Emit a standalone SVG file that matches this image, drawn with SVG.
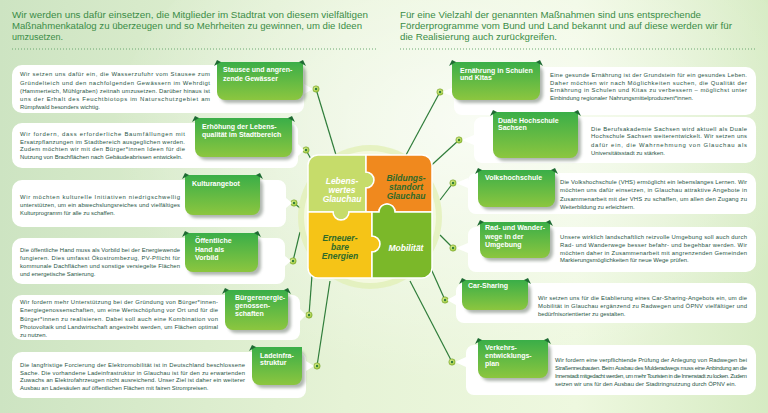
<svg xmlns="http://www.w3.org/2000/svg" width="768" height="413" viewBox="0 0 768 413">
<defs>
<linearGradient id="bg" x1="0" y1="0" x2="1" y2="0">
<stop offset="0" stop-color="#cde4c2"/>
<stop offset="0.45" stop-color="#e6f3d6"/>
<stop offset="0.75" stop-color="#eef8df"/>
<stop offset="1" stop-color="#d6ebc3"/>
</linearGradient>
<radialGradient id="glow" cx="0.5" cy="0.45" r="0.5">
<stop offset="0" stop-color="#ffffff" stop-opacity="0.7"/>
<stop offset="1" stop-color="#ffffff" stop-opacity="0"/>
</radialGradient>
<linearGradient id="tabg" x1="0" y1="0" x2="0" y2="1">
<stop offset="0" stop-color="#3aae48"/>
<stop offset="1" stop-color="#8cc63f"/>
</linearGradient>
<radialGradient id="dotg" cx="0.4" cy="0.4" r="0.6">
<stop offset="0" stop-color="#e4f29a"/>
<stop offset="1" stop-color="#9cc83a"/>
</radialGradient>
<filter id="sh" x="-10%" y="-10%" width="130%" height="140%">
<feGaussianBlur stdDeviation="1.5"/>
</filter>
<style>
.title{font-family:"Liberation Sans",Arial,sans-serif;font-size:9.2px;fill:#3a8c46}
.body{font-family:"Liberation Sans",Arial,sans-serif;font-size:5.9px;fill:#1f5545}
.lab{font-family:"Liberation Sans",Arial,sans-serif;font-size:7px;font-weight:bold;fill:#ffffff}
.box{fill:#ffffff}
.tab{fill:url(#tabg)}
.tsh{fill:#6f7d70;opacity:0.55;filter:url(#sh)}
.ear{fill:#1f6b33}
.dots{stroke:#6aa870;stroke-width:1;stroke-dasharray:1 2}
.con{stroke:#2f7d3a;stroke-width:1.2;fill:none}
.dot{fill:url(#dotg);stroke:#6f9a2a;stroke-width:0.5}
.dc{fill:#2f7d3a}
.pz{font-family:"Liberation Sans",Arial,sans-serif;font-size:8.5px;font-weight:bold;font-style:italic;text-anchor:middle}
</style>
</defs>
<rect width="768" height="413" fill="url(#bg)"/>
<ellipse cx="470" cy="150" rx="360" ry="260" fill="url(#glow)"/>

<g id="titles">
<text class="title" x="12" y="18" textLength="356" lengthAdjust="spacingAndGlyphs">Wir werden uns dafür einsetzen, die Mitglieder im Stadtrat von diesem vielfältigen</text>
<text class="title" x="12" y="29" textLength="350" lengthAdjust="spacingAndGlyphs">Maßnahmenkatalog zu überzeugen und so Mehrheiten zu gewinnen, um die Ideen</text>
<text class="title" x="12" y="40" textLength="51" lengthAdjust="spacingAndGlyphs">umzusetzen.</text>
<text class="title" x="400" y="18" textLength="301" lengthAdjust="spacingAndGlyphs">Für eine Vielzahl der genannten Maßnahmen sind uns entsprechende</text>
<text class="title" x="400" y="29" textLength="332" lengthAdjust="spacingAndGlyphs">Förderprogramme vom Bund und Land bekannt und auf diese werden wir für</text>
<text class="title" x="400" y="40" textLength="157" lengthAdjust="spacingAndGlyphs">die Realisierung auch zurückgreifen.</text>
<line class="dots" x1="12" y1="49" x2="376" y2="49"/>
<line class="dots" x1="400" y1="49" x2="756" y2="49"/>
</g>

<g id="connectors">
<path class="con" d="M336 155 L316 89"/>
<path class="con" d="M318 172 L306 150"/>
<path class="con" d="M300 208 L294 203"/>
<path class="con" d="M300 232 L293 261"/>
<path class="con" d="M313 262 L309 315"/>
<path class="con" d="M330 281 L317 366"/>
<path class="con" d="M406 155 L440 92"/>
<path class="con" d="M424 172 L459 140"/>
<path class="con" d="M440 200 L453 183"/>
<path class="con" d="M440 235 L453 248"/>
<path class="con" d="M428 262 L445 300"/>
<path class="con" d="M410 281 L452 362"/>
</g>

<g id="hub">
<circle cx="370" cy="217" r="72" fill="#e2f0b8" opacity="0.8"/>
<circle cx="370" cy="217" r="66" fill="#f4f9e0"/>
<g id="p-lebenswert">
<path d="M318 155 H366 V172 a8 8 0 0 1 0 16 V212 H349 a8 8 0 0 1 -16 0 H308 V165 a10 10 0 0 1 10 -10 Z" fill="#c6dc6a" stroke="#ffffff" stroke-width="1.5"/>
<text class="pz" x="342" y="184" fill="#ffffff">Lebens-</text>
<text class="pz" x="342" y="193" fill="#ffffff">wertes</text>
<text class="pz" x="342" y="202" fill="#ffffff">Glauchau</text>
</g>
<g id="p-bildung">
<path d="M366 155 H422 a10 10 0 0 1 10 10 V212 H395 a8 8 0 0 0 -16 0 H366 V188 a8 8 0 0 0 0 -16 Z" fill="#f0891e" stroke="#ffffff" stroke-width="1.5"/>
<text class="pz" x="406" y="181" fill="#2e6a2a">Bildungs-</text>
<text class="pz" x="406" y="190" fill="#2e6a2a">standort</text>
<text class="pz" x="406" y="199" fill="#2e6a2a">Glauchau</text>
</g>
<g id="p-energie">
<path d="M308 212 H333 a8 8 0 0 0 16 0 H372 V236 a8 8 0 0 1 0 16 V278 H318 a10 10 0 0 1 -10 -10 Z" fill="#f5c417" stroke="#ffffff" stroke-width="1.5"/>
<text class="pz" x="340" y="241" fill="#2e6a2a">Erneuer-</text>
<text class="pz" x="340" y="250" fill="#2e6a2a">bare</text>
<text class="pz" x="340" y="259" fill="#2e6a2a">Energien</text>
</g>
<g id="p-mobil">
<path d="M372 212 H379 a8 8 0 0 1 16 0 H432 V268 a10 10 0 0 1 -10 10 H372 V252 a8 8 0 0 0 0 -16 Z" fill="#7bb829" stroke="#ffffff" stroke-width="1.5"/>
<text class="pz" x="406" y="251" fill="#ffffff">Mobilität</text>
</g>
</g>

<g id="dots">
<circle class="dot" cx="316" cy="89" r="3.2"/><circle class="dc" cx="316" cy="89" r="1.2"/>
<circle class="dot" cx="306" cy="150" r="3.2"/><circle class="dc" cx="306" cy="150" r="1.2"/>
<circle class="dot" cx="294" cy="203" r="3.2"/><circle class="dc" cx="294" cy="203" r="1.2"/>
<circle class="dot" cx="293" cy="261" r="3.2"/><circle class="dc" cx="293" cy="261" r="1.2"/>
<circle class="dot" cx="309" cy="315" r="3.2"/><circle class="dc" cx="309" cy="315" r="1.2"/>
<circle class="dot" cx="317" cy="366" r="3.2"/><circle class="dc" cx="317" cy="366" r="1.2"/>
<circle class="dot" cx="440" cy="92" r="3.2"/><circle class="dc" cx="440" cy="92" r="1.2"/>
<circle class="dot" cx="459" cy="140" r="3.2"/><circle class="dc" cx="459" cy="140" r="1.2"/>
<circle class="dot" cx="453" cy="183" r="3.2"/><circle class="dc" cx="453" cy="183" r="1.2"/>
<circle class="dot" cx="453" cy="248" r="3.2"/><circle class="dc" cx="453" cy="248" r="1.2"/>
<circle class="dot" cx="445" cy="300" r="3.2"/><circle class="dc" cx="445" cy="300" r="1.2"/>
<circle class="dot" cx="452" cy="362" r="3.2"/><circle class="dc" cx="452" cy="362" r="1.2"/>
</g>

<g id="n-stausee">
<path class="box" d="M22 65 H296 a8 8 0 0 1 8 8 V84 L313 89 L304 94 V105 a8 8 0 0 1 -8 8 H22 a10 10 0 0 1 -10 -10 V75 a10 10 0 0 1 10 -10 Z"/>
<rect class="tsh" x="220" y="65" width="86" height="38" rx="8"/>
<path class="tab" d="M217 62 H303 V92 a8 8 0 0 1 -8 8 H225 a8 8 0 0 1 -8 -8 Z"/>
<path class="ear" d="M214 66 L217 60 L221 62 Z M306 66 L303 60 L299 62 Z"/>
<text class="lab" x="223" y="72">Stausee und angren-</text>
<text class="lab" x="223" y="80.5">zende Gewässer</text>
<text class="body" x="20" y="76" textLength="190" lengthAdjust="spacing">Wir setzen uns dafür ein, die Wasserzufuhr vom Stausee zum</text>
<text class="body" x="20" y="84.5" textLength="190" lengthAdjust="spacing">Gründelteich und den nachfolgenden Gewässern im Wehrdigt</text>
<text class="body" x="20" y="92.5" textLength="190" lengthAdjust="spacing">(Hammerteich, Mühlgraben) zeitnah umzusetzen. Darüber hinaus ist</text>
<text class="body" x="20" y="101" textLength="190" lengthAdjust="spacing">uns der Erhalt des Feuchtbiotops im Naturschutzgebiet am</text>
<text class="body" x="20" y="109">Rümpfwald besonders wichtig.</text>
</g>

<g id="n-lebensqualitaet">
<path class="box" d="M22 123 H290 a8 8 0 0 1 8 8 V144 L304 150 L298 156 V160 a8 8 0 0 1 -8 8 H22 a10 10 0 0 1 -10 -10 V133 a10 10 0 0 1 10 -10 Z"/>
<rect class="tsh" x="198" y="121" width="96" height="39" rx="8"/>
<path class="tab" d="M195 118 H292 V149 a8 8 0 0 1 -8 8 H203 a8 8 0 0 1 -8 -8 Z"/>
<path class="ear" d="M192 122 L195 116 L199 118 Z M295 122 L292 116 L288 118 Z"/>
<text class="lab" x="202" y="129">Erhöhung der Lebens-</text>
<text class="lab" x="202" y="137">qualität im Stadtbereich</text>
<text class="body" x="20" y="136" textLength="165" lengthAdjust="spacing">Wir fordern, dass erforderliche Baumfällungen mit</text>
<text class="body" x="20" y="143.5" textLength="165" lengthAdjust="spacing">Ersatzpflanzungen im Stadtbereich ausgeglichen werden.</text>
<text class="body" x="20" y="151" textLength="165" lengthAdjust="spacing">Zudem möchten wir mit den Bürger*innen Ideen für die</text>
<text class="body" x="20" y="159">Nutzung von Brachflächen nach Gebäudeabrissen entwickeln.</text>
</g>

<g id="n-kultur">
<path class="box" d="M22 180 H278 a8 8 0 0 1 8 8 V198 L292 203 L286 208 V219 a8 8 0 0 1 -8 8 H22 a10 10 0 0 1 -10 -10 V190 a10 10 0 0 1 10 -10 Z"/>
<rect class="tsh" x="188" y="178" width="75" height="40" rx="8"/>
<path class="tab" d="M185 175 H260 V207 a8 8 0 0 1 -8 8 H193 a8 8 0 0 1 -8 -8 Z"/>
<path class="ear" d="M182 179 L185 173 L189 175 Z M263 179 L260 173 L256 175 Z"/>
<text class="lab" x="192" y="186">Kulturangebot</text>
<text class="body" x="20" y="199" textLength="160" lengthAdjust="spacing">Wir möchten kulturelle Initiativen niedrigschwellig</text>
<text class="body" x="20" y="207" textLength="160" lengthAdjust="spacing">unterstützen, um ein abwechslungsreiches und vielfältiges</text>
<text class="body" x="20" y="215">Kulturprogramm für alle zu schaffen.</text>
</g>

<g id="n-hand">
<path class="box" d="M22 238 H277 a8 8 0 0 1 8 8 V256 L291 261 L285 266 V276 a8 8 0 0 1 -8 8 H22 a10 10 0 0 1 -10 -10 V248 a10 10 0 0 1 10 -10 Z"/>
<rect class="tsh" x="188" y="236" width="73" height="39" rx="8"/>
<path class="tab" d="M185 233 H258 V264 a8 8 0 0 1 -8 8 H193 a8 8 0 0 1 -8 -8 Z"/>
<path class="ear" d="M182 237 L185 231 L189 233 Z M261 237 L258 231 L254 233 Z"/>
<text class="lab" x="195" y="243">Öffentliche</text>
<text class="lab" x="195" y="251.5">Hand als</text>
<text class="lab" x="195" y="260">Vorbild</text>
<text class="body" x="20" y="252" textLength="160" lengthAdjust="spacing">Die öffentliche Hand muss als Vorbild bei der Energiewende</text>
<text class="body" x="20" y="260" textLength="160" lengthAdjust="spacing">fungieren. Dies umfasst Ökostrombezug, PV-Pflicht für</text>
<text class="body" x="20" y="268" textLength="160" lengthAdjust="spacing">kommunale Dachflächen und sonstige versiegelte Flächen</text>
<text class="body" x="20" y="275.5">und energetische Sanierung.</text>
</g>

<g id="n-buerger">
<path class="box" d="M22 295 H292 a8 8 0 0 1 8 8 V309 L306 315 L300 321 V332 a8 8 0 0 1 -8 8 H22 a10 10 0 0 1 -10 -10 V305 a10 10 0 0 1 10 -10 Z"/>
<rect class="tsh" x="228" y="293" width="63" height="40" rx="8"/>
<path class="tab" d="M225 290 H288 V322 a8 8 0 0 1 -8 8 H233 a8 8 0 0 1 -8 -8 Z"/>
<path class="ear" d="M222 294 L225 288 L229 290 Z M291 294 L288 288 L284 290 Z"/>
<text class="lab" x="235" y="300">Bürgerenergie-</text>
<text class="lab" x="235" y="308">genossen-</text>
<text class="lab" x="235" y="316">schaften</text>
<text class="body" x="20" y="304" textLength="198" lengthAdjust="spacing">Wir fordern mehr Unterstützung bei der Gründung von Bürger*innen-</text>
<text class="body" x="20" y="312" textLength="198" lengthAdjust="spacing">Energiegenossenschaften, um eine Wertschöpfung vor Ort und für die</text>
<text class="body" x="20" y="320.5" textLength="198" lengthAdjust="spacing">Bürger*innen zu realisieren. Dabei soll auch eine Kombination von</text>
<text class="body" x="20" y="329" textLength="198" lengthAdjust="spacing">Photovoltaik und Landwirtschaft angestrebt werden, um Flächen optimal</text>
<text class="body" x="20" y="337">zu nutzen.</text>
</g>

<g id="n-lade">
<path class="box" d="M22 352 H298 a8 8 0 0 1 8 8 V361 L314 366 L306 371 V390 a8 8 0 0 1 -8 8 H22 a10 10 0 0 1 -10 -10 V362 a10 10 0 0 1 10 -10 Z"/>
<rect class="tsh" x="255" y="350" width="50" height="38" rx="8"/>
<path class="tab" d="M252 347 H302 V377 a8 8 0 0 1 -8 8 H260 a8 8 0 0 1 -8 -8 Z"/>
<path class="ear" d="M249 351 L252 345 L256 347 Z"/>
<text class="lab" x="260" y="357.5">Ladeinfra-</text>
<text class="lab" x="260" y="365">struktur</text>
<text class="body" x="20" y="366.5" textLength="225" lengthAdjust="spacing">Die langfristige Forcierung der Elektromobilität ist in Deutschland beschlossene</text>
<text class="body" x="20" y="374.5" textLength="225" lengthAdjust="spacing">Sache. Die vorhandene Ladeinfrastruktur in Glauchau ist für den zu erwartenden</text>
<text class="body" x="20" y="382" textLength="225" lengthAdjust="spacing">Zuwachs an Elektrofahrzeugen nicht ausreichend. Unser Ziel ist daher ein weiterer</text>
<text class="body" x="20" y="390">Ausbau an Ladesäulen auf öffentlichen Flächen mit fairen Strompreisen.</text>
</g>

<g id="n-ernaehrung">
<path class="box" d="M462 67 H746 a10 10 0 0 1 10 10 V105 a10 10 0 0 1 -10 10 H462 a8 8 0 0 1 -8 -8 V97 L442 92 L454 87 V75 a8 8 0 0 1 8 -8 Z"/>
<rect class="tsh" x="455" y="65" width="88" height="38" rx="8"/>
<path class="tab" d="M452 62 H540 V92 a8 8 0 0 1 -8 8 H460 a8 8 0 0 1 -8 -8 Z"/>
<path class="ear" d="M449 66 L452 60 L456 62 Z M543 66 L540 60 L536 62 Z"/>
<text class="lab" x="460" y="72.5">Ernährung in Schulen</text>
<text class="lab" x="460" y="80">und Kitas</text>
<text class="body" x="550" y="77" textLength="197" lengthAdjust="spacing">Eine gesunde Ernährung ist der Grundstein für ein gesundes Leben.</text>
<text class="body" x="550" y="84.5" textLength="197" lengthAdjust="spacing">Daher möchten wir nach Möglichkeiten suchen, die Qualität der</text>
<text class="body" x="550" y="92" textLength="197" lengthAdjust="spacing">Ernährung in Schulen und Kitas zu verbessern – möglichst unter</text>
<text class="body" x="550" y="99.5">Einbindung regionaler Nahrungsmittelproduzent*innen.</text>
</g>

<g id="n-duale">
<path class="box" d="M482 117 H746 a10 10 0 0 1 10 10 V153 a10 10 0 0 1 -10 10 H482 a8 8 0 0 1 -8 -8 V145 L462 140 L474 135 V125 a8 8 0 0 1 8 -8 Z"/>
<rect class="tsh" x="496" y="115" width="85" height="46" rx="8"/>
<path class="tab" d="M493 112 H578 V150 a8 8 0 0 1 -8 8 H501 a8 8 0 0 1 -8 -8 Z"/>
<path class="ear" d="M490 116 L493 110 L497 112 Z M581 116 L578 110 L574 112 Z"/>
<text class="lab" x="498" y="122.5">Duale Hochschule</text>
<text class="lab" x="498" y="130">Sachsen</text>
<text class="body" x="591" y="130.5" textLength="156" lengthAdjust="spacing">Die Berufsakademie Sachsen wird aktuell als Duale</text>
<text class="body" x="591" y="138" textLength="156" lengthAdjust="spacing">Hochschule Sachsen weiterentwickelt. Wir setzen uns</text>
<text class="body" x="591" y="146.5" textLength="156" lengthAdjust="spacing">dafür ein, die Wahrnehmung von Glauchau als</text>
<text class="body" x="591" y="154.5">Universitätsstadt zu stärken.</text>
</g>

<g id="n-vhs">
<path class="box" d="M476 173 H746 a10 10 0 0 1 10 10 V204 a10 10 0 0 1 -10 10 H476 a8 8 0 0 1 -8 -8 V188 L456 183 L468 178 V181 a8 8 0 0 1 8 -8 Z"/>
<rect class="tsh" x="481" y="173" width="77" height="37" rx="8"/>
<path class="tab" d="M478 170 H555 V199 a8 8 0 0 1 -8 8 H486 a8 8 0 0 1 -8 -8 Z"/>
<path class="ear" d="M475 174 L478 168 L482 170 Z M558 174 L555 168 L551 170 Z"/>
<text class="lab" x="485" y="180">Volkshochschule</text>
<text class="body" x="560" y="184" textLength="187" lengthAdjust="spacing">Die Volkshochschule (VHS) ermöglicht ein lebenslanges Lernen. Wir</text>
<text class="body" x="560" y="192" textLength="187" lengthAdjust="spacing">möchten uns dafür einsetzen, in Glauchau attraktive Angebote in</text>
<text class="body" x="560" y="200.5" textLength="187" lengthAdjust="spacing">Zusammenarbeit mit der VHS zu schaffen, um allen den Zugang zu</text>
<text class="body" x="560" y="209">Weiterbildung zu erleichtern.</text>
</g>

<g id="n-rad">
<path class="box" d="M476 227 H746 a10 10 0 0 1 10 10 V262 a10 10 0 0 1 -10 10 H476 a8 8 0 0 1 -8 -8 V253 L456 248 L468 243 V235 a8 8 0 0 1 8 -8 Z"/>
<rect class="tsh" x="483" y="225" width="70" height="36" rx="8"/>
<path class="tab" d="M480 222 H550 V250 a8 8 0 0 1 -8 8 H488 a8 8 0 0 1 -8 -8 Z"/>
<path class="ear" d="M477 226 L480 220 L484 222 Z M553 226 L550 220 L546 222 Z"/>
<text class="lab" x="485" y="230">Rad- und Wander-</text>
<text class="lab" x="485" y="238.5">wege in der</text>
<text class="lab" x="485" y="246.5">Umgebung</text>
<text class="body" x="560" y="239" textLength="187" lengthAdjust="spacing">Unsere wirklich landschaftlich reizvolle Umgebung soll auch durch</text>
<text class="body" x="560" y="247" textLength="187" lengthAdjust="spacing">Rad- und Wanderwege besser befahr- und begehbar werden. Wir</text>
<text class="body" x="560" y="254.5" textLength="187" lengthAdjust="spacing">möchten daher in Zusammenarbeit mit angrenzenden Gemeinden</text>
<text class="body" x="560" y="262">Markierungsmöglichkeiten für neue Wege prüfen.</text>
</g>

<g id="n-car">
<path class="box" d="M464 283 H746 a10 10 0 0 1 10 10 V313 a10 10 0 0 1 -10 10 H464 a8 8 0 0 1 -8 -8 V305 L447 300 L456 295 V291 a8 8 0 0 1 8 -8 Z"/>
<rect class="tsh" x="465" y="283" width="66" height="30" rx="8"/>
<path class="tab" d="M462 280 H528 V302 a8 8 0 0 1 -8 8 H470 a8 8 0 0 1 -8 -8 Z"/>
<path class="ear" d="M459 284 L462 278 L466 280 Z M531 284 L528 278 L524 280 Z"/>
<text class="lab" x="468" y="288">Car-Sharing</text>
<text class="body" x="538" y="300" textLength="209" lengthAdjust="spacing">Wir setzen uns für die Etablierung eines Car-Sharing-Angebots ein, um die</text>
<text class="body" x="538" y="308" textLength="209" lengthAdjust="spacing">Mobilität in Glauchau ergänzend zu Radwegen und ÖPNV vielfältiger und</text>
<text class="body" x="538" y="316">bedürfnisorientierter zu gestalten.</text>
</g>

<g id="n-verkehr">
<path class="box" d="M474 345 H746 a10 10 0 0 1 10 10 V385 a10 10 0 0 1 -10 10 H474 a8 8 0 0 1 -8 -8 V367 L455 362 L466 357 V353 a8 8 0 0 1 8 -8 Z"/>
<rect class="tsh" x="481" y="343" width="70" height="38" rx="8"/>
<path class="tab" d="M478 340 H548 V370 a8 8 0 0 1 -8 8 H486 a8 8 0 0 1 -8 -8 Z"/>
<path class="ear" d="M475 344 L478 338 L482 340 Z M551 344 L548 338 L544 340 Z"/>
<text class="lab" x="485" y="350">Verkehrs-</text>
<text class="lab" x="485" y="358">entwicklungs-</text>
<text class="lab" x="485" y="366">plan</text>
<text class="body" x="555" y="362" textLength="192" lengthAdjust="spacing">Wir fordern eine verpflichtende Prüfung der Anlegung von Radwegen bei</text>
<text class="body" x="555" y="370" textLength="192" lengthAdjust="spacing">Straßenneubauten. Beim Ausbau des Mulderadwegs muss eine Anbindung an die</text>
<text class="body" x="555" y="378" textLength="192" lengthAdjust="spacing">Innenstadt mitgedacht werden, um mehr Touristen in die Innenstadt zu locken. Zudem</text>
<text class="body" x="555" y="386">setzen wir uns für den Ausbau der Stadtringnutzung durch ÖPNV ein.</text>
</g>
</svg>
